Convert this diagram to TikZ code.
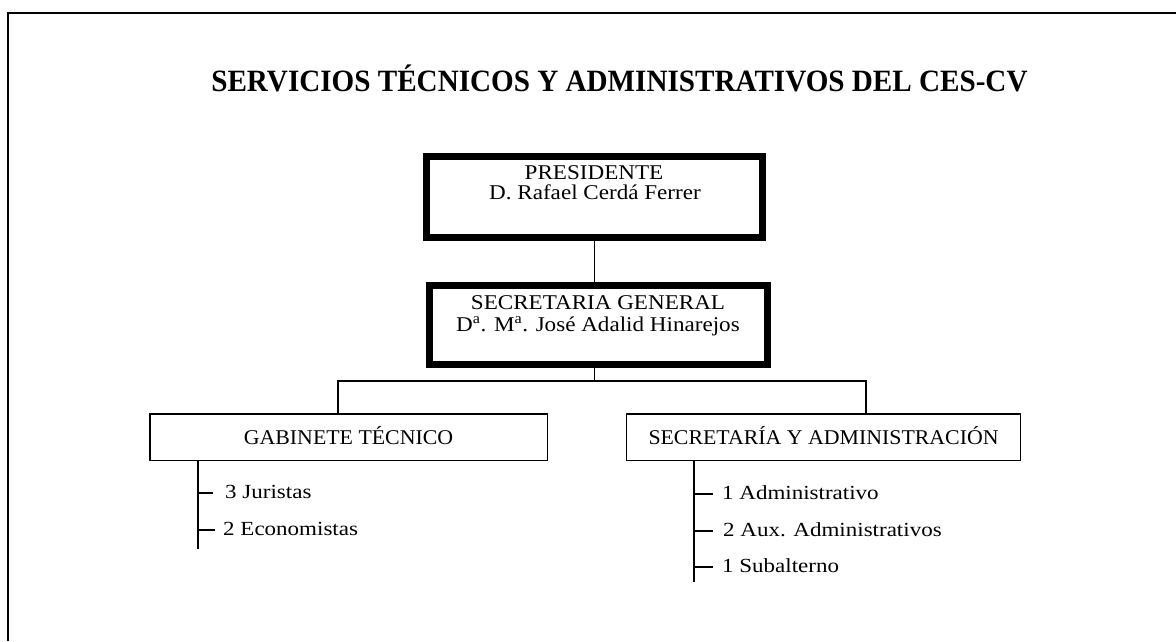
\documentclass[tikz,border=0pt]{standalone}
\usepackage{fontspec}
\setmainfont{Liberation Serif}
\newfontfamily\titlefont[FakeStretch=0.94]{Liberation Serif}
\newfontfamily\boxfont[FakeStretch=1.1]{Liberation Serif}
\newfontfamily\unitfont[FakeStretch=1.04]{Liberation Serif}
\newfontfamily\itemfont[FakeStretch=1.15]{Liberation Serif}
\begin{document}
\begin{tikzpicture}[x=1pt,y=-1pt,
  bigbox/.style={draw, line width=7pt, inner sep=0pt},
  smallbox/.style={draw, line width=1.5pt, minimum height=46.5pt, text height=14pt, text depth=0pt, font=\unitfont\fontsize{21}{21}\selectfont},
  conn/.style={line width=1.6pt},
  boxtext/.style={font=\boxfont\fontsize{21}{21}\selectfont, inner sep=0pt, anchor=base},
  item/.style={font=\itemfont\fontsize{20}{20}\selectfont, inner sep=0pt, anchor=base west},
]
\useasboundingbox (0,0) rectangle (1176,641);
\fill[white] (0,0) rectangle (1176,641);
\coordinate (fc) at (8,13);
\draw[line width=1.5pt] (8,641) -- (fc) -- (1176,13);

\node[font=\titlefont\fontsize{31}{31}\selectfont\bfseries, inner sep=0pt, anchor=base] (title) at (619.5,91) {SERVICIOS TÉCNICOS Y ADMINISTRATIVOS DEL CES-CV};

\node[bigbox, minimum width=336pt, minimum height=81pt] (pres) at (594.5,197) {};
\node[bigbox, minimum width=338pt, minimum height=79pt] (sg) at (598.5,325) {};
\node[boxtext] (pres1) at (594,179) {PRESIDENTE};
\node[boxtext] (pres2) at (595,199) {D. Rafael Cerdá Ferrer};
\node[boxtext] (sg1) at (598,309) {SECRETARIA GENERAL};
\node[boxtext] (sg2) at (598,331) {D\textsuperscript{a}. M\textsuperscript{a}. José Adalid Hinarejos};

\node[smallbox, minimum width=397.5pt] (gab) at (348.5,437) {GABINETE TÉCNICO};
\node[smallbox, anchor=west, inner xsep=22pt] (sa) at (625.75,437) {SECRETARÍA Y ADMINISTRACIÓN};

\draw[conn] (pres.south) -- (pres.south |- sg.north);
\coordinate (bus) at (594.5,381);
\coordinate (busl) at (338,381);
\coordinate (busr) at (866,381);
\draw[conn] (pres.south |- sg.south) -- (bus);
\draw[conn] (busl |- gab.north) -- (busl) -- (busr) -- (busr |- sa.north);

\coordinate (gbar) at (198,549);
\draw[conn] (gbar |- gab.south) -- (gbar);
\node[item] (j1) at (225,498) {3 Juristas};
\node[item] (j2) at (223,535) {2 Economistas};
\coordinate (j1t) at ([yshift=5pt]j1.base west);
\coordinate (j2t) at ([yshift=5pt]j2.base west);
\draw[conn] (gbar |- j1t) -- ++(15,0);
\draw[conn] (gbar |- j2t) -- ++(17,0);

\coordinate (sbar) at (694,582);
\draw[conn] (sbar |- sa.south) -- (sbar);
\node[item] (s1) at (722,499) {1 Administrativo};
\node[item] (s2) at (723,536) {2 Aux. Administrativos};
\node[item] (s3) at (722,572) {1 Subalterno};
\coordinate (s1t) at ([yshift=5pt]s1.base west);
\coordinate (s2t) at ([yshift=5pt]s2.base west);
\coordinate (s3t) at ([yshift=5pt]s3.base west);
\draw[conn] (sbar |- s1t) -- ++(19,0);
\draw[conn] (sbar |- s2t) -- ++(19,0);
\draw[conn] (sbar |- s3t) -- ++(19,0);
\end{tikzpicture}
\end{document}
